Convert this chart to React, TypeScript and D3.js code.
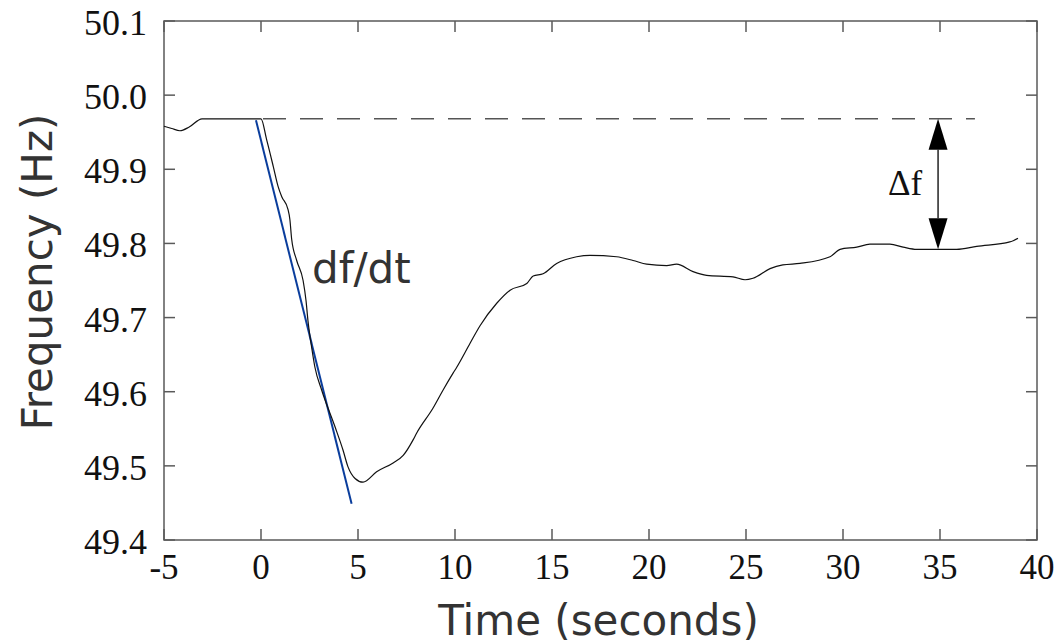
import React from "react";
import * as d3 from "d3";

const timeS = [-5, -4.6, -4.18, -3.7, -3.04, 0, 0.29, 0.64, 0.88, 1.07, 1.39, 1.49, 1.58, 1.84, 2.17, 2.32, 2.42, 2.61, 2.78, 3.13, 3.81, 4.23, 4.48, 4.85, 5.26, 5.96, 6.81, 7.33, 7.84, 8.02, 8.87, 9.38, 9.9, 10.09, 10.77, 11.29, 12.14, 12.84, 13.7, 14.03, 14.54, 15.24, 16.27, 16.96, 18.33, 19.18, 19.88, 20.91, 21.42, 22.27, 22.97, 24.33, 24.95, 25.36, 26.24, 26.9, 27.78, 29.33, 29.85, 30.71, 31.39, 32.42, 33.1, 33.8, 34.83, 35.86, 36.89, 38.6, 39.02];
const freqHz = [49.958, 49.955, 49.952, 49.957, 49.968, 49.968, 49.94, 49.903, 49.877, 49.863, 49.846, 49.832, 49.806, 49.777, 49.75, 49.723, 49.696, 49.66, 49.633, 49.602, 49.553, 49.521, 49.499, 49.483, 49.478, 49.492, 49.504, 49.514, 49.535, 49.544, 49.578, 49.602, 49.625, 49.633, 49.665, 49.689, 49.719, 49.737, 49.746, 49.756, 49.759, 49.773, 49.782, 49.784, 49.782, 49.777, 49.772, 49.77, 49.772, 49.762, 49.757, 49.755, 49.751, 49.753, 49.766, 49.771, 49.773, 49.782, 49.792, 49.795, 49.799, 49.799, 49.795, 49.792, 49.792, 49.792, 49.796, 49.802, 49.807];

const tangentT = [-0.26, 4.67];
const tangentF = [49.966, 49.449];

const nominalLevel = 49.968;
const nominalT = [0, 36.8];
const deltaT = 34.9;
const deltaBottom = 49.792;

const xTicks = [-5, 0, 5, 10, 15, 20, 25, 30, 35, 40];
const yTicks = [49.4, 49.5, 49.6, 49.7, 49.8, 49.9, 50.0, 50.1];

export default function App() {
  const W = 1063, H = 644;
  const L = 164, R = 1037, T = 21, B = 540;
  const x = d3.scaleLinear().domain([-5, 40]).range([L, R]);
  const y = d3.scaleLinear().domain([49.4, 50.1]).range([B, T]);
  const pts = timeS.map((t, i) => [t, freqHz[i]] as [number, number]);
  const line = d3.line<[number, number]>().x(d => x(d[0])).y(d => y(d[1])).curve(d3.curveMonotoneX);
  const tick = 11;
  const axisColor = "#5a5a5a";
  const ax = x(deltaT);
  const aTop = y(nominalLevel);
  const aBot = y(deltaBottom);
  const headH = 31, headW = 19;
  const serif = "'Liberation Serif', 'Times New Roman', serif";
  const sans = "'DejaVu Sans', Verdana, sans-serif";
  return (
    <svg width={W} height={H} style={{ position: "absolute", left: 0, top: 0, background: "#fff" }}>
      <rect x={0} y={0} width={W} height={H} fill="#fff" />
      <rect x={L} y={T} width={R - L} height={B - T} fill="none" stroke={axisColor} strokeWidth={1.5} />
      {xTicks.map(v => (
        <g key={"xt" + v}>
          <line x1={x(v)} x2={x(v)} y1={B} y2={B - tick} stroke={axisColor} strokeWidth={1.5} />
          <line x1={x(v)} x2={x(v)} y1={T} y2={T + tick} stroke={axisColor} strokeWidth={1.5} />
          <text x={x(v)} y={579} textAnchor="middle" fontFamily={serif} fontSize={35} fill="#111">{v}</text>
        </g>
      ))}
      {yTicks.map(v => (
        <g key={"yt" + v}>
          <line x1={L} x2={L + tick} y1={y(v)} y2={y(v)} stroke={axisColor} strokeWidth={1.5} />
          <line x1={R} x2={R - tick} y1={y(v)} y2={y(v)} stroke={axisColor} strokeWidth={1.5} />
          <text x={147} y={y(v) + 14} textAnchor="end" fontFamily={serif} fontSize={36} fill="#111">{v.toFixed(1)}</text>
        </g>
      ))}
      <line x1={x(nominalT[0])} x2={x(nominalT[1])} y1={y(nominalLevel)} y2={y(nominalLevel)} stroke="#555" strokeWidth={1.5} strokeDasharray="23 14" strokeDashoffset={35} />
      <line x1={x(tangentT[0])} y1={y(tangentF[0])} x2={x(tangentT[1])} y2={y(tangentF[1])} stroke="#0a3d9c" strokeWidth={2} />
      <path d={line(pts) || ""} fill="none" stroke="#111" strokeWidth={1.2} />
      <line x1={ax} x2={ax} y1={aTop + headH} y2={aBot - headH} stroke="#000" strokeWidth={1.3} />
      <path d={`M${ax},${aTop} L${ax - headW / 2},${aTop + headH} L${ax + headW / 2},${aTop + headH} Z`} fill="#000" />
      <path d={`M${ax},${aBot} L${ax - headW / 2},${aBot - headH} L${ax + headW / 2},${aBot - headH} Z`} fill="#000" />
      <text x={888} y={195} fontFamily={serif} fontSize={35} fill="#111">Δf</text>
      <text x={312} y={283} fontFamily={sans} fontSize={42} fill="#333">df/dt</text>
      <text x={(L + R) / 2 - 2} y={635} textAnchor="middle" fontFamily={sans} fontSize={42} fill="#333">Time (seconds)</text>
      <text transform={`translate(52,272) rotate(-90)`} textAnchor="middle" fontFamily={sans} fontSize={42} fill="#333">Frequency (Hz)</text>
    </svg>
  );
}
